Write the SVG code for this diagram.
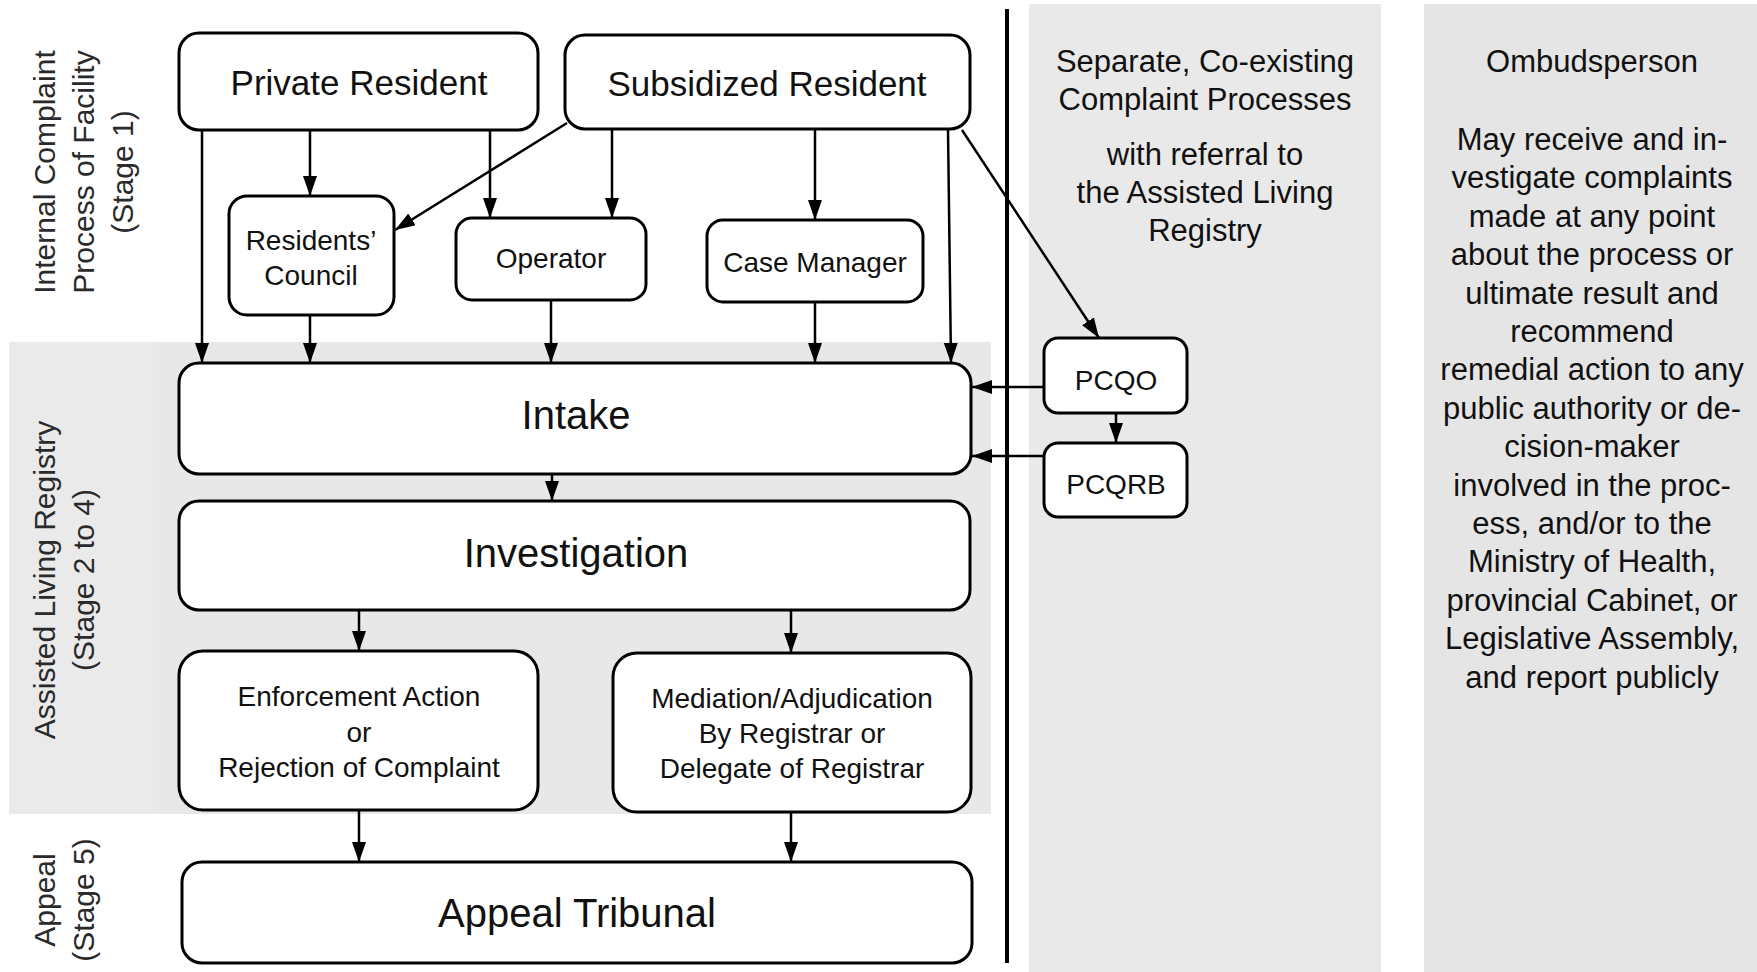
<svg xmlns="http://www.w3.org/2000/svg" width="1757" height="972" viewBox="0 0 1757 972">
<defs>
<marker id="ah" markerUnits="userSpaceOnUse" markerWidth="21" markerHeight="15" refX="20" refY="7" orient="auto">
<path d="M0,0 L20,7 L0,14 z" fill="#000"/>
</marker>
<style>
.box{fill:#fff;stroke:#000;stroke-width:3}
.t{font-family:"Liberation Sans",Arial,sans-serif;fill:#111;text-anchor:middle}
.big{font-size:40px}
.mid{font-size:35px}
.sm{font-size:28px}
.lab{font-family:"Liberation Sans",Arial,sans-serif;font-size:30px;fill:#2a2a2a;text-anchor:middle}
.pan{font-family:"Liberation Sans",Arial,sans-serif;font-size:31px;fill:#111;text-anchor:middle}
.c line,.c path{stroke:#000;stroke-width:2.5;fill:none;marker-end:url(#ah)}
</style>
</defs>
<rect width="1757" height="972" fill="#fff"/>
<g id="backgrounds">
<rect x="9" y="342" width="149" height="472" fill="#eaeaea"/>
<rect x="158" y="342" width="833" height="472" fill="#e8e8e8"/>
<rect x="1029" y="4" width="352" height="968" fill="#e9e9e9"/>
<rect x="1424" y="4" width="333" height="968" fill="#e5e5e5"/>
<line x1="1007" y1="9" x2="1007" y2="963" stroke="#000" stroke-width="4"/>
</g>
<g id="stage-labels">
<text class="lab" transform="translate(55,172) rotate(-90)"><tspan x="0" y="0">Internal Complaint</tspan><tspan x="0" y="39">Process of Facility</tspan><tspan x="0" y="78">(Stage 1)</tspan></text>
<text class="lab" transform="translate(55,580) rotate(-90)"><tspan x="0" y="0">Assisted Living Registry</tspan><tspan x="0" y="39">(Stage 2 to 4)</tspan></text>
<text class="lab" transform="translate(55,900) rotate(-90)"><tspan x="0" y="0">Appeal</tspan><tspan x="0" y="39">(Stage 5)</tspan></text>
</g>
<g id="panel-separate">
<text class="pan"><tspan x="1205" y="72">Separate, Co-existing</tspan><tspan x="1205" y="110">Complaint Processes</tspan><tspan x="1205" y="165">with referral to</tspan><tspan x="1205" y="203">the Assisted Living</tspan><tspan x="1205" y="241">Registry</tspan></text>
</g>
<g id="panel-ombudsperson">
<text class="pan"><tspan x="1592" y="72">Ombudsperson</tspan><tspan x="1592" y="150">May receive and in-</tspan><tspan x="1592" y="188.4">vestigate complaints</tspan><tspan x="1592" y="226.8">made at any point</tspan><tspan x="1592" y="265.2">about the process or</tspan><tspan x="1592" y="303.6">ultimate result and</tspan><tspan x="1592" y="342">recommend</tspan><tspan x="1592" y="380.4">remedial action to any</tspan><tspan x="1592" y="418.8">public authority or de-</tspan><tspan x="1592" y="457.2">cision-maker</tspan><tspan x="1592" y="495.6">involved in the proc-</tspan><tspan x="1592" y="534">ess, and/or to the</tspan><tspan x="1592" y="572.4">Ministry of Health,</tspan><tspan x="1592" y="610.8">provincial Cabinet, or</tspan><tspan x="1592" y="649.2">Legislative Assembly,</tspan><tspan x="1592" y="687.6">and report publicly</tspan></text>
</g>
<g id="connectors" class="c">
<line x1="202" y1="130" x2="202" y2="363"/>
<line x1="310" y1="130" x2="310" y2="196"/>
<line x1="490" y1="130" x2="490" y2="218"/>
<line x1="567" y1="123" x2="395" y2="230"/>
<line x1="612" y1="130" x2="612" y2="218"/>
<line x1="815" y1="130" x2="815" y2="220"/>
<line x1="948" y1="130" x2="951" y2="363"/>
<line x1="962" y1="130" x2="1099" y2="338"/>
<line x1="310" y1="315" x2="310" y2="363"/>
<line x1="551" y1="300" x2="551" y2="363"/>
<line x1="815" y1="302" x2="815" y2="363"/>
<line x1="1044" y1="387" x2="972" y2="387"/>
<line x1="1044" y1="456" x2="972" y2="456"/>
<line x1="1116" y1="413" x2="1116" y2="443"/>
<line x1="552" y1="474" x2="552" y2="501"/>
<line x1="359" y1="610" x2="359" y2="651"/>
<line x1="791" y1="610" x2="791" y2="653"/>
<line x1="359" y1="810" x2="359" y2="862"/>
<line x1="791" y1="812" x2="791" y2="862"/>
</g>
<g id="private-resident">
<rect class="box" x="179" y="33" width="359" height="97" rx="20"/>
<text class="t mid" x="359" y="95">Private Resident</text>
</g>
<g id="subsidized-resident">
<rect class="box" x="565" y="35" width="405" height="94" rx="20"/>
<text class="t mid" x="767" y="96">Subsidized Resident</text>
</g>
<g id="residents-council">
<rect class="box" x="229" y="196" width="165" height="119" rx="18"/>
<text class="t sm"><tspan x="311" y="250">Residents’</tspan><tspan x="311" y="285">Council</tspan></text>
</g>
<g id="operator">
<rect class="box" x="456" y="218" width="190" height="82" rx="16"/>
<text class="t sm" x="551" y="268">Operator</text>
</g>
<g id="case-manager">
<rect class="box" x="707" y="220" width="216" height="82" rx="16"/>
<text class="t sm" x="815" y="272">Case Manager</text>
</g>
<g id="intake">
<rect class="box" x="179" y="363" width="792" height="111" rx="20"/>
<text class="t big" x="576" y="429">Intake</text>
</g>
<g id="investigation">
<rect class="box" x="179" y="501" width="791" height="109" rx="20"/>
<text class="t big" x="576" y="567">Investigation</text>
</g>
<g id="enforcement">
<rect class="box" x="179" y="651" width="359" height="159" rx="24"/>
<text class="t sm"><tspan x="359" y="706">Enforcement Action</tspan><tspan x="359" y="742">or</tspan><tspan x="359" y="777">Rejection of Complaint</tspan></text>
</g>
<g id="mediation">
<rect class="box" x="613" y="653" width="358" height="159" rx="24"/>
<text class="t sm"><tspan x="792" y="708">Mediation/Adjudication</tspan><tspan x="792" y="743">By Registrar or</tspan><tspan x="792" y="778">Delegate of Registrar</tspan></text>
</g>
<g id="appeal-tribunal">
<rect class="box" x="182" y="862" width="790" height="101" rx="20"/>
<text class="t big" x="577" y="927">Appeal Tribunal</text>
</g>
<g id="pcqo">
<rect class="box" x="1044" y="338" width="143" height="75" rx="14"/>
<text class="t sm" x="1116" y="390">PCQO</text>
</g>
<g id="pcqrb">
<rect class="box" x="1044" y="443" width="143" height="74" rx="14"/>
<text class="t sm" x="1116" y="494">PCQRB</text>
</g>
</svg>
